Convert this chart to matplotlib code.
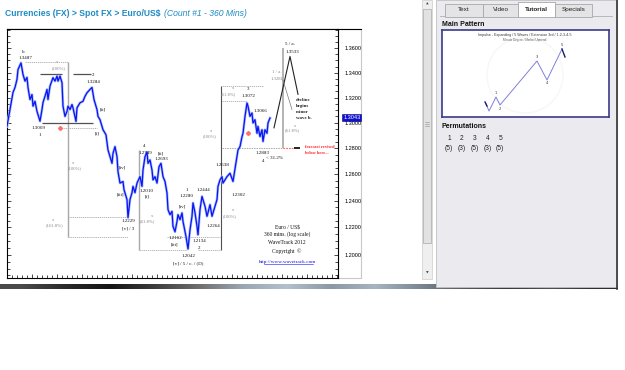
import numpy as np
import matplotlib
matplotlib.use("Agg")
import matplotlib.pyplot as plt
from matplotlib.patches import Rectangle, Circle
from matplotlib.ticker import FixedLocator, FixedFormatter, NullFormatter

# EUR/USD 360-min closes (bar index, price)
bars = [0, 3, 6, 8, 10, 11, 14, 16, 18, 20, 21, 23, 25, 26, 28, 30, 33, 35, 36, 38,
        40, 41, 43, 46, 48, 50, 51, 53, 55, 56, 58, 60, 61, 63, 65, 66, 69, 70, 73, 76,
        78, 80, 83, 85, 87, 90, 91, 93, 95, 96, 99, 101, 103, 105, 106, 108, 110, 111, 113, 116,
        117, 120, 121, 123, 125, 126, 128, 130, 133, 135, 136, 138, 140, 141, 143, 145, 146, 148, 150, 152,
        154, 156, 158, 160, 161, 163, 165, 166, 168, 170, 171, 173, 175, 176, 179, 181, 183, 185, 186, 188,
        190, 191, 193, 195, 196, 198, 200, 201, 203, 205, 208, 210, 211, 213, 215, 216, 220, 223, 226, 230,
        231, 233, 235, 236, 238, 240, 241, 243, 245, 246, 248, 250, 251, 253, 255, 256, 258, 260, 261, 263]
closes = [1.2971, 1.3104, 1.3241, 1.3281, 1.3346, 1.3426, 1.3480, 1.3386, 1.3332, 1.3362,
          1.3281, 1.3184, 1.3224, 1.3131, 1.3170, 1.3090, 1.3012, 1.3104, 1.3160, 1.3210,
          1.3265, 1.3184, 1.3292, 1.3360, 1.3332, 1.3373, 1.3332, 1.3373, 1.3319, 1.3131,
          1.3050, 1.3090, 1.3131, 1.3104, 1.3144, 1.3118, 1.3010, 1.3118, 1.3158, 1.3170,
          1.3210, 1.3238, 1.3265, 1.3281, 1.3184, 1.3104, 1.3050, 1.3024, 1.2971, 1.2945,
          1.2905, 1.2787, 1.2735, 1.2684, 1.2761, 1.2813, 1.2735, 1.2620, 1.2533, 1.2545,
          1.2483, 1.2408, 1.2273, 1.2408, 1.2460, 1.2508, 1.2460, 1.2533, 1.2582, 1.2508,
          1.2632, 1.2735, 1.2771, 1.2684, 1.2710, 1.2632, 1.2557, 1.2582, 1.2533, 1.2658,
          1.2684, 1.2582, 1.2545, 1.2458, 1.2333, 1.2295, 1.2320, 1.2208, 1.2168, 1.2245,
          1.2295, 1.2258, 1.2308, 1.2245, 1.2133, 1.2042, 1.2183, 1.2283, 1.2383, 1.2310,
          1.2208, 1.2146, 1.2333, 1.2432, 1.2408, 1.2358, 1.2283, 1.2310, 1.2370, 1.2283,
          1.2358, 1.2408, 1.2508, 1.2557, 1.2582, 1.2533, 1.2582, 1.2608, 1.2545, 1.2735,
          1.2787, 1.2813, 1.2890, 1.2917, 1.3050, 1.3156, 1.3131, 1.3050, 1.3077, 1.2998,
          1.3024, 1.2917, 1.2971, 1.2891, 1.2945, 1.2853, 1.2945, 1.2917, 1.2998, 1.3037]

price_ticks = [1.20, 1.22, 1.24, 1.26, 1.28, 1.30, 1.32, 1.34, 1.36]
price_labels = ["1.2000", "1.2200", "1.2400", "1.2600", "1.2800",
                "1.3000", "1.3200", "1.3400", "1.3600"]
last_price = 1.3043

# projected wave 5 / a. and the first leg of b.
proj_bars = [267, 283, 291]
proj_prices = [1.2960, 1.3533, 1.3226]

tab_names = ["Text", "Video", "Tutorial", "Specials"]
perm_waves = ["1", "2", "3", "4", "5"]
perm_counts = ["(5)", "(3)", "(5)", "(3)", "(5)"]

# main pattern thumbnail: 1-2-3-4-5 impulse
pattern_x = [44, 47, 54, 58, 95, 105, 120, 123]
pattern_y = [13, 6, 20, 12, 56, 37, 68, 60]
pattern_names = ["1", "2", "3", "4", "5"]

W, H = 625, 370
fig = plt.figure(figsize=(W / 100, H / 100), dpi=100)
fig.patch.set_facecolor("white")

# page chrome drawn in pixel space
page = fig.add_axes([0, 0, 1, 1])
page.set_xlim(0, W)
page.set_ylim(H, 0)
page.axis("off")

sans = "Liberation Sans"
serif = "Liberation Serif"
teal = "#1f8cc4"

page.text(5, 13, "Currencies (FX) > Spot FX > Euro/US$", color=teal, fontsize=6.2,
          fontweight="bold", family=sans, va="center")
page.text(164, 13, "(Count #1 - 360 Mins)", color=teal, fontsize=6.2,
          style="italic", family=sans, va="center")

# y axis strip beside the chart
page.add_patch(Rectangle((338, 29), 23, 249, fc="white", ec="#c8c8c8", lw=0.8))
page.plot([7, 361], [29, 29], color="black", lw=0.8)

# dark strip under the chart window
strip = ["#4a4a4a", "#2a2a2a", "#141414", "#3c3c3c", "#6e6e6e", "#9aa6b2", "#b4c0cc",
         "#8c98a4", "#a8b4c0", "#7c8894", "#5a5a5a", "#3a3a3a", "#505050", "#2e2e2e"]
rgb = np.array([[matplotlib.colors.to_rgb(c) for c in strip]])
page.imshow(rgb, extent=(0, 618, 289, 284.5), aspect="auto", interpolation="bilinear")

# scrollbar
page.add_patch(Rectangle((422, 0), 10, 279, fc="#efefef", ec="#d4d4d4", lw=0.6))
page.add_patch(Rectangle((423, 9), 8, 234, fc="#e2e2e2", ec="#b4b4b4", lw=0.6))
for gy in (122, 124, 126):
    page.plot([425, 429], [gy, gy], color="#8c8c8c", lw=0.4)
page.text(427, 4, "\u25b2", fontsize=2.5, ha="center", va="center", color="#444444")
page.text(427, 273, "\u25bc", fontsize=2.5, ha="center", va="center", color="#444444")

# right hand panel
page.add_patch(Rectangle((436, 0), 181, 287, fc="#ebeaef", ec="#c0c0c4", lw=0.6))
page.plot([617, 617], [0, 289], color="#333333", lw=1.2)

tab_left = [445, 483, 518, 555]
tab_right = [483, 518, 555, 592]
page.plot([440, 612], [16, 16], color="#b0b0b0", lw=0.6)
for name, x0, x1 in zip(tab_names, tab_left, tab_right):
    active = name == "Tutorial"
    top = 2 if active else 4
    page.add_patch(Rectangle((x0, top), x1 - x0, 16.5 - top,
                             fc="white" if active else "#e4e4e6", ec="#a8a8a8", lw=0.6,
                             zorder=3))
    page.text((x0 + x1) / 2, 9.5, name, fontsize=4.6, family=sans, ha="center", va="center",
              fontweight="bold" if active else "normal", color="#222222", zorder=4)

page.text(442, 25, "Main Pattern", fontsize=5, fontweight="bold", family=sans,
          va="center", color="#111111")
page.text(442, 126, "Permutations", fontsize=5, fontweight="bold", family=sans,
          va="center", color="#111111")
for i, (w, c) in enumerate(zip(perm_waves, perm_counts)):
    page.text(449 + 12.8 * i, 138.5, w, fontsize=4.8, family=sans, ha="center",
              va="center", color="#222222")
    page.text(449 + 12.8 * i, 149, c, fontsize=4.8, family=sans, ha="center",
              va="center", color="#222222")

# main pattern thumbnail
thumb = fig.add_axes([442 / W, 1 - 117 / H, 167 / W, 87 / H])
thumb.set_xlim(0, 167)
thumb.set_ylim(0, 87)
thumb.set_xticks([])
thumb.set_yticks([])
thumb.set_facecolor("white")
for s in thumb.spines.values():
    s.set_color("#3a3a8a")
    s.set_linewidth(1.2)
thumb.add_patch(Circle((83, 42), 38, fc="none", ec="#f7f7f7", lw=1.0))
thumb.text(83, 82, "Impulse - Expanding / 5 Waves / Extension 3rd / 1-2-3-4-5",
           fontsize=2.6, ha="center", va="center", family=sans, color="#333333")
thumb.text(83, 77.5, "Minute Degree / Market Uptrend", fontsize=2.2, ha="center",
           va="center", family=sans, color="#555555")
thumb.plot(pattern_x[:-1], pattern_y[:-1], color="#8080d8", lw=0.7)
thumb.plot(pattern_x[-2:], pattern_y[-2:], color="#1a1a70", lw=1.0)
thumb.plot([43, 45], [15, 11], color="#1a1a70", lw=1.0)
for k, name in enumerate(pattern_names):
    xi = pattern_x[2 + k]
    yi = pattern_y[2 + k]
    dy = 3.5 if k % 2 == 0 else -3.5
    thumb.text(xi, yi + dy, name, fontsize=2.6, ha="center", va="center", color="#333333")

# ---- main price chart ----
ax = fig.add_axes([7 / W, 1 - 278 / H, 331 / W, 249 / H])
ax.set_yscale("log")
ax.set_xlim(0, 331)
ax.set_ylim(1.1832, 1.376)
for s in ax.spines.values():
    s.set_linewidth(0.8)

ax.plot(bars, closes, color="#a8bcff", lw=1.9, solid_joinstyle="round", zorder=3)
ax.plot(bars, closes, color="#0a14f0", lw=0.9, solid_joinstyle="round", zorder=4)

ax.yaxis.set_major_locator(FixedLocator(price_ticks))
ax.yaxis.set_minor_locator(FixedLocator(list(np.arange(1.185, 1.376, 0.005))))
ax.yaxis.set_major_formatter(FixedFormatter(price_labels))
ax.yaxis.set_minor_formatter(NullFormatter())
ax.yaxis.tick_right()
ax.tick_params(axis="y", which="both", left=True, right=True, direction="in",
               labelleft=False, labelright=True, labelsize=4, pad=4.5, length=2, width=0.5)
ax.tick_params(axis="y", which="major", length=3)
ax.xaxis.set_major_locator(FixedLocator(list(range(0, 331, 25))))
ax.xaxis.set_minor_locator(FixedLocator(list(range(0, 331, 5))))
ax.tick_params(axis="x", which="both", direction="in", labelbottom=False, length=2, width=0.5)
ax.tick_params(axis="x", which="major", length=3)
for lbl in ax.get_yticklabels():
    lbl.set_family(sans)

ax.text(1.016, last_price, "1.3043", transform=ax.get_yaxis_transform(), fontsize=4,
        family=sans, color="white", va="center", ha="left",
        bbox=dict(boxstyle="square,pad=0.15", fc="#1010d0", ec="#000080", lw=0.4))

gray = "#a8a8a8"
dark = "#505050"
dots = (0, (1.5, 1))
# fibonacci measurement lines
ax.hlines(1.3485, 18, 61, colors=gray, linestyles=dots, lw=0.6)
ax.vlines(61, 1.2133, 1.3485, colors=gray, lw=1.0)
ax.hlines(1.3392, 33, 55, colors=dark, lw=0.9)
ax.hlines(1.3392, 66, 84, colors=dark, lw=0.9)
ax.hlines(1.2998, 35, 86, colors=dark, lw=0.9)
ax.hlines(1.2960, 56, 90, colors=gray, linestyles=dots, lw=0.6)
ax.hlines([1.2275, 1.2133], 61, 121, colors=gray, linestyles=dots, lw=0.6)
ax.vlines(132, 1.2035, 1.2787, colors=gray, lw=1.0)
ax.hlines(1.2035, 132, 180, colors=gray, linestyles=dots, lw=0.6)
ax.hlines(1.2133, 160, 213, colors=gray, linestyles=dots, lw=0.6)
ax.hlines(1.2035, 191, 213, colors=gray, linestyles=dots, lw=0.6)
ax.vlines(214, 1.2035, 1.3292, colors=dark, lw=0.8)
ax.hlines(1.3292, 215, 256, colors=gray, linestyles=dots, lw=0.6)
ax.hlines(1.3176, 215, 240, colors=gray, linestyles=dots, lw=0.6)
ax.vlines(276, 1.2800, 1.3602, colors=gray, lw=1.2)
ax.hlines(1.2800, 215, 276, colors=gray, linestyles=dots, lw=0.7)
ax.hlines(1.2800, 276, 286, colors="#ff6060", linestyles=dots, lw=0.8)
ax.hlines(1.2800, 287, 293, colors="black", lw=1.2)

ax.plot(proj_bars, proj_prices, color="#222222", lw=0.8, zorder=5)
ax.plot([276, 285], [1.3340, 1.3104], color="#777777", lw=0.5, zorder=5)

ax.plot([53, 241], [1.2960, 1.2917], ls="none", marker="P", ms=3, mfc="#ff7070",
        mec="#ff3030", mew=0.3, zorder=6)

labels = [
    ("b", 16, 1.3568), ("1.3487", 18, 1.3520), ("1.3009", 32, 1.2958), ("1", 33, 1.2900),
    ("2", 86, 1.3378), ("1.3284", 86, 1.3324), ("[ii]", 96, 1.3104), ("[i]", 90, 1.2913),
    ("[iv]", 115, 1.2651), ("[iii]", 113, 1.2450), ("1.2229", 121, 1.2250),
    ("[v] / 3", 121, 1.2193), ("4", 137, 1.2818), ("1.2749", 138, 1.2766),
    ("[ii]", 154, 1.2761), ("1.2693", 154, 1.2715), ("1.2010", 140, 1.2470),
    ("[i]", 140, 1.2432), ("[iii]", 167, 1.2077), ("1.2162", 168, 1.2126),
    ("[iv]", 175, 1.2353), ("1", 180, 1.2477), ("1.2280", 180, 1.2432),
    ("1.2042", 181, 1.1990), ("[v] / 5 / c. / (D)", 181, 1.1937),
    ("1.2444", 196, 1.2477), ("1.2134", 192, 1.2102), ("2", 192, 1.2050),
    ("1.2264", 206, 1.2213), ("1.2638", 215, 1.2669), ("1.2302", 231, 1.2445),
    ("3", 241, 1.3266), ("1.3072", 241, 1.3211), ("1.3066", 253, 1.3090),
    ("1.2883", 256, 1.2761), ("4", 256, 1.2704), ("< 31.2%", 268, 1.2727),
    ("5 / a.", 283, 1.3634), ("1.3533", 285, 1.3573),
]
for txt, bx, py in labels:
    ax.text(bx, py, txt, fontsize=3.6, family=serif, ha="center", va="center",
            color="#111111", zorder=7)

fib_labels = [
    ("x", 50, 1.3485), ("(100%)", 52, 1.3440), ("x", 66, 1.2688), ("(100%)", 68, 1.2646),
    ("x", 46, 1.2258), ("(161.8%)", 48, 1.2220), ("x", 145, 1.2286), ("(61.8%)", 140, 1.2250),
    ("x", 204, 1.2937), ("(100%)", 203, 1.2892), ("x", 226, 1.3276), ("(61.8%)", 221, 1.3230),
    ("x", 226, 1.2333), ("(100%)", 223, 1.2288), ("x", 288, 1.2976), ("(61.8%)", 285, 1.2945),
    ("1 / a.", 270, 1.3404), ("1.3281", 270, 1.3353),
]
for txt, bx, py in fib_labels:
    ax.text(bx, py, txt, fontsize=3.4, family=serif, ha="center", va="center",
            color="#8a8a8a", zorder=7)

for k, line in enumerate(["decline", "begins", "minor", "wave b."]):
    ax.text(289, 1.3184 * (1 - 0.0037 * k), line, fontsize=3.5, family=serif,
            fontweight="bold", ha="left", va="center", color="#222222", zorder=7)
ax.text(298, 1.2813, "forecast revised", fontsize=3.2, family=serif, fontweight="bold",
        ha="left", va="center", color="#ff2020", zorder=7)
ax.text(298, 1.2766, "below here...", fontsize=3.2, family=serif, fontweight="bold",
        ha="left", va="center", color="#ff2020", zorder=7)

footer = ["Euro / US$", "360 mins. (log scale)", "WaveTrack 2012", "Copyright  \u00a9"]
footer_y = [0.201, 0.176, 0.142, 0.106]
for txt, fy in zip(footer, footer_y):
    ax.text(0.846, fy, txt, transform=ax.transAxes, fontsize=4.0, family=serif,
            ha="center", va="center", color="#111111")
ax.text(0.849, 0.064, "http://www.wavetrack.com", transform=ax.transAxes, fontsize=3.8,
        family=serif, ha="center", va="center", color="#1010ee")
ax.plot([0.775, 0.923], [0.055, 0.055], transform=ax.transAxes, color="#1010ee", lw=0.4)

fig.savefig("out.png", dpi=100)
